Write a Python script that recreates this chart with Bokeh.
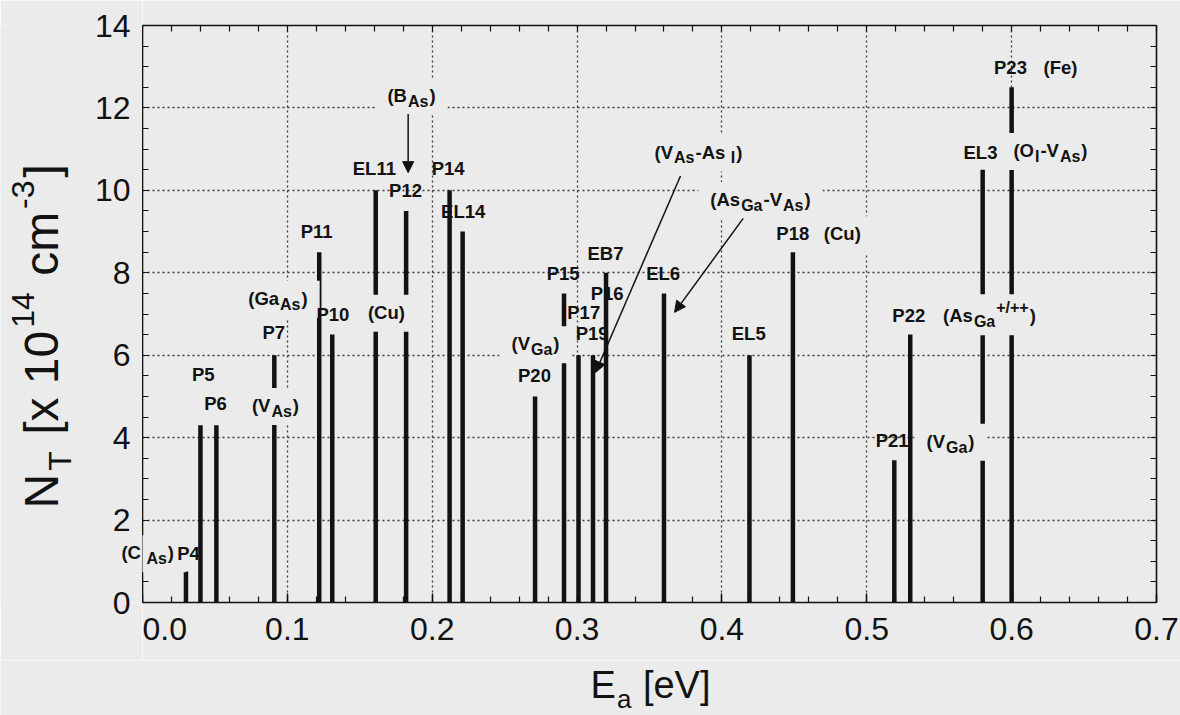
import math
import numpy as np
from bokeh.plotting import figure
from bokeh.layouts import column, row
from bokeh.models import (Range1d, LinearAxis, FixedTicker,
                          PrintfTickFormatter, Label, Arrow, NormalHead,
                          BoxAnnotation, ColumnDataSource)
from bokeh.embed import file_html
from bokeh.resources import INLINE

# ---------------- data ----------------
trap_names = ["P4", "P5", "P6", "P7", "P11", "P10", "EL11", "P12", "P14", "EL14",
              "P20", "P15", "P17", "P19", "EB7", "EL6", "EL5", "P18", "P21", "P22",
              "EL3", "P23"]
trap_energy = [0.030, 0.040, 0.051, 0.091, 0.122, 0.131, 0.161, 0.182, 0.212, 0.221,
               0.271, 0.291, 0.301, 0.311, 0.320, 0.360, 0.419, 0.449, 0.519, 0.530,
               0.580, 0.600]
trap_density = [0.75, 4.3, 4.3, 6.0, 8.5, 6.5, 10.0, 9.5, 10.0, 9.0,
                5.0, 7.5, 6.0, 6.0, 8.0, 7.5, 6.0, 8.5, 3.45, 6.5,
                10.5, 12.5]

# level names: (text, E, N) at the centre of the text
level_labels = [
    ("P4", 0.0318, 1.19), ("P5", 0.0419, 5.53), ("P6", 0.0504, 4.82),
    ("P7", 0.0906, 6.54), ("P10", 0.1314, 7.00), ("P11", 0.1206, 9.00),
    ("EL11", 0.1604, 10.52), ("P12", 0.1816, 10.00), ("P14", 0.2110, 10.52),
    ("EL14", 0.2214, 9.49), ("P20", 0.2706, 5.51), ("P15", 0.2904, 7.99),
    ("P17", 0.3046, 7.03), ("P19", 0.3104, 6.52), ("P16", 0.3208, 7.50),
    ("EB7", 0.3196, 8.48), ("EL6", 0.3594, 7.99), ("EL5", 0.4185, 6.52),
    ("P18", 0.4489, 8.95), ("P21", 0.5175, 3.93), ("P22", 0.5290, 6.96),
    ("EL3", 0.5785, 10.93), ("P23", 0.5992, 12.99),
]

# defect assignments (drawn on opaque boxes), markup: _{sub} ^{sup}
defect_labels = [
    ("(C_{ As})", 0.0036, 1.21),
    ("(V_{As})", 0.0918, 4.78),
    ("(Ga_{As})", 0.0935, 7.38),
    ("(Cu)", 0.1684, 7.04),
    ("(B_{As})", 0.1857, 12.30),
    ("(V_{Ga})", 0.2713, 6.28),
    ("(V_{As}-As_{ I})", 0.3838, 10.93),
    ("(As_{Ga}-V_{As})", 0.4266, 9.78),
    ("(Cu)", 0.4831, 8.95),
    ("(V_{Ga})", 0.5578, 3.91),
    ("(As_{Ga}^{+/++})", 0.5847, 6.96),
    ("(O_{I}-V_{As})", 0.6268, 10.97),
    ("(Fe)", 0.6337, 12.98),
]

# pointer arrows: (E_start, N_start, E_end, N_end)
pointer_arrows = [
    (0.1834, 11.85, 0.1834, 10.43),
    (0.3714, 10.35, 0.3127, 5.58),
    (0.4147, 9.32, 0.3673, 7.04),
]

x_ticks = [0.0, 0.1, 0.2, 0.3, 0.4, 0.5, 0.6, 0.7]
y_ticks = [0, 2, 4, 6, 8, 10, 12, 14]
y_tick_labels = ["0", "2", "4", "6", "8", "10", "12", "14"]

# ---------------- styling / geometry ----------------
INK = "#121212"
PAPER = "#ebebeb"
FONT = "Liberation Sans"
PAGE_W, PAGE_H = 1180, 715
LEFT, RIGHT, TOP, BOTTOM = 142, 24, 25, 113      # frame margins
TICK_BAND = 58                                   # room for x tick labels
Y_LABEL_GAP = 12                                 # y tick labels to frame edge
FRAME_W = PAGE_W - LEFT - RIGHT
FRAME_H = PAGE_H - TOP - BOTTOM
X0, X1, Y0, Y1 = 0.0, 0.7, 0.0, 14.0
PX_X = FRAME_W / (X1 - X0)
PX_Y = FRAME_H / (Y1 - Y0)

BOLD_W = {'(': 333, ')': 333, '-': 333, '+': 584, '/': 278, ' ': 278, 'A': 722,
          'B': 722, 'C': 722, 'E': 667, 'F': 611, 'G': 778, 'I': 278, 'L': 611,
          'O': 778, 'P': 667, 'V': 667, 'a': 556, 'e': 556, 's': 556, 'u': 611}
REG_W = {'N': 722, 'T': 611, ' ': 278, '[': 278, ']': 278, 'x': 500, 'c': 500,
         'm': 833, '-': 333, 'E': 667, 'a': 556, 'e': 556, 'V': 667}


def text_w(s, size, table):
    return sum(table.get(ch, 556) for ch in s) * size / 1000.0


def parse(markup):
    parts, buf, i = [], "", 0
    while i < len(markup):
        c = markup[i]
        if c in "_^" and i + 1 < len(markup) and markup[i + 1] == "{":
            if buf:
                parts.append((buf, "n"))
                buf = ""
            j = markup.index("}", i)
            parts.append((markup[i + 2:j], "sub" if c == "_" else "sup"))
            i = j + 1
        else:
            buf += c
            i += 1
    if buf:
        parts.append((buf, "n"))
    return parts


def rich_width(markup, size, small, bold, gap=1.0):
    parts = parse(markup)
    table = BOLD_W if bold else REG_W
    return sum(text_w(t, size if m == "n" else small, table) for t, m in parts) \
        + gap * (len(parts) - 1)


def place_text(x, y, markup, size, small, bold, inner, outer=None,
               angle=0.0, gap=1.0):
    """Lay out text with sub/superscripts centred on (x, y).
    Pieces that start left of the y axis go to `outer`, the strip beside the frame."""
    parts = parse(markup)
    table = BOLD_W if bold else REG_W
    total = rich_width(markup, size, small, bold, gap)
    cap = 0.358
    shift = {
        "n": 0.0,
        "sub": -(cap * size + 0.27 * size - cap * small),
        "sup": -cap * size + 0.49 * size + cap * small,
    }
    pos = -total / 2.0
    for t, m in parts:
        sz = size if m == "n" else small
        w = text_w(t, sz, table)
        stripped = t.lstrip(" ")
        along = pos + text_w(t[:len(t) - len(stripped)], sz, table)
        across = shift[m]
        if angle == 0.0:
            xo, yo = along, across
        else:
            xo, yo = -across, along
        if stripped:
            target = inner
            if outer is not None and angle == 0.0 and x * PX_X + along < 0:
                target = outer
            target.add_layout(Label(x=x, y=y, x_offset=xo, y_offset=yo, text=stripped,
                                    angle=angle, text_align="left",
                                    text_baseline="middle", text_font=FONT,
                                    text_font_style="bold" if bold else "normal",
                                    text_font_size=f"{sz}px", text_color=INK))
        pos += w + gap


def bare(width, height, x_range, y_range, top=0, bottom=0):
    return figure(width=width, height=height, output_backend="svg",
                  toolbar_location=None, x_range=x_range, y_range=y_range,
                  x_axis_type=None, y_axis_type=None, min_border_left=0,
                  min_border_right=0, min_border_top=top, min_border_bottom=bottom,
                  background_fill_color=PAPER, border_fill_color=PAPER,
                  outline_line_color=None)


# ---------------- main plot ----------------
x_range = Range1d(X0, X1)
y_range = Range1d(Y0, Y1)
ROW_H = PAGE_H - BOTTOM + TICK_BAND
p = figure(width=PAGE_W - LEFT, height=ROW_H,
           output_backend="svg", toolbar_location=None,
           x_range=x_range, y_range=y_range,
           min_border_left=0, min_border_right=RIGHT, min_border_top=TOP,
           min_border_bottom=TICK_BAND, background_fill_color=PAPER,
           border_fill_color=PAPER, outline_line_color=None)

x_minor = list(np.round(np.arange(X0, X1 + 1e-9, 0.02), 2))
y_minor = list(np.round(np.arange(Y0, Y1 + 1e-9, 0.5), 1))

# grid
p.xgrid.ticker = FixedTicker(ticks=x_ticks[1:-1])
p.ygrid.ticker = FixedTicker(ticks=y_ticks[1:-1])
for g in (p.xgrid, p.ygrid):
    g.grid_line_color = "#3a3a3a"
    g.grid_line_dash = "2 3"
    g.grid_line_width = 1.3

# axes: labelled bottom axis, tick-only frame on the other sides
bottom_axis = p.below[0]
bottom_axis.ticker = FixedTicker(ticks=x_ticks, minor_ticks=x_minor)
bottom_axis.formatter = PrintfTickFormatter(format="%.1f")
p.left[0].ticker = FixedTicker(ticks=[], minor_ticks=y_minor)
p.add_layout(LinearAxis(ticker=FixedTicker(ticks=[], minor_ticks=x_minor)), "above")
p.add_layout(LinearAxis(ticker=FixedTicker(ticks=[], minor_ticks=y_minor)), "right")
for ax in p.axis:
    ax.axis_line_color = INK
    ax.axis_line_width = 1.6
    ax.major_tick_line_color = INK
    ax.minor_tick_line_color = INK
    ax.major_tick_line_width = 1.4
    ax.minor_tick_line_width = 1.2
    ax.major_tick_in = 9
    ax.major_tick_out = 0
    ax.minor_tick_in = 6
    ax.minor_tick_out = 0
    ax.major_label_standoff = 0
    ax.major_label_text_font = FONT
    ax.major_label_text_font_size = "32px"
    ax.major_label_text_color = INK
bottom_axis.major_label_standoff = 15

# trap bars
src = ColumnDataSource(dict(name=trap_names, e=trap_energy, n=trap_density,
                            zero=[0.0] * len(trap_names)))
p.segment(x0="e", y0="zero", x1="e", y1="n", source=src, line_width=4.5,
          line_color=INK, line_cap="butt")

# ---------------- side strips ----------------
lfig = bare(LEFT, ROW_H, Range1d(X0 - LEFT / PX_X, X0), y_range,
            top=TOP, bottom=TICK_BAND)
xfig = bare(PAGE_W, BOTTOM - TICK_BAND,
            Range1d(X0 - LEFT / PX_X, X0 + (PAGE_W - LEFT) / PX_X),
            Range1d(Y0 - BOTTOM / PX_Y, Y0 - TICK_BAND / PX_Y))

# y tick labels: an axis on the strip, its labels pushed across to the frame edge
y_label_axis = LinearAxis(ticker=FixedTicker(ticks=y_ticks),
                          major_label_overrides=dict(zip(y_ticks, y_tick_labels)),
                          axis_line_color=None, major_tick_line_color=None,
                          minor_tick_line_color=None, major_tick_in=0,
                          major_tick_out=0, minor_tick_in=0, minor_tick_out=0,
                          major_label_standoff=-(LEFT - Y_LABEL_GAP),
                          major_label_text_font=FONT,
                          major_label_text_font_size="32px",
                          major_label_text_color=INK)
lfig.add_layout(y_label_axis, "left")

# defect labels sit on opaque boxes that interrupt bars and grid
PAD_X, HALF_H = 12.0, 18.5
for markup, e, n in defect_labels:
    w = rich_width(markup, 18.5, 16, True)
    has_sup = "^{" in markup
    top = n + (HALF_H - 1 + (4 if has_sup else 0)) / PX_Y
    bottom = n - (HALF_H + 1) / PX_Y
    p.add_layout(BoxAnnotation(left=e - (w / 2 + PAD_X) / PX_X,
                               right=e + (w / 2 + PAD_X) / PX_X,
                               top=top, bottom=bottom, fill_color=PAPER,
                               fill_alpha=1.0, line_color=None, line_alpha=0))

for markup, e, n in defect_labels:
    place_text(e, n, markup, 18.5, 16, True, p, lfig)

for name, e, n in level_labels:
    place_text(e, n, name, 18.5, 16, True, p, lfig)

for xs, ys, xe, ye in pointer_arrows:
    p.add_layout(Arrow(x_start=xs, y_start=ys, x_end=xe, y_end=ye,
                       line_color=INK, line_width=1.5,
                       end=NormalHead(size=11, fill_color=INK, line_color=INK)))

# axis titles
place_text(-0.0699, 6.46, "N_{T} [x 10^{14} cm^{-3}]", 48, 32, False, lfig,
           angle=math.pi / 2, gap=3.0)
place_text(0.3507, -1.99, "E_{a} [eV]", 38, 26, False, xfig)

layout = column(row(lfig, p, spacing=0), xfig, spacing=0)
html = file_html(layout, INLINE)
html = html.replace("<body>", f'<body style="margin:0;background:{PAPER}">', 1)
open("out.html", "w").write(html)
